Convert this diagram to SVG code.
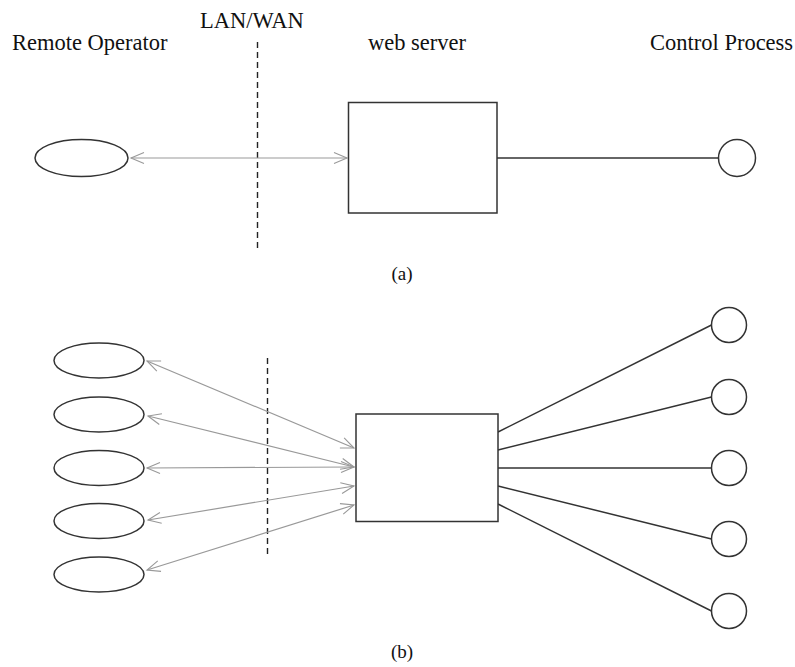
<svg xmlns="http://www.w3.org/2000/svg" width="795" height="667" viewBox="0 0 795 667">
  <defs>
    <marker id="chev" markerUnits="userSpaceOnUse" markerWidth="16" markerHeight="14" refX="14" refY="7" orient="auto-start-reverse">
      <path d="M1,1.5 L14,7 L1,12.5" fill="none" stroke="#999" stroke-width="1.1"/>
    </marker>
  </defs>
  <style>
    .lbl { font-size: 22.5px; fill: #111; }
    .cap { font-size: 19px; fill: #111; }
    .node { fill: #fff; stroke: #333; stroke-width: 1.5; }
    .link { stroke: #333; stroke-width: 1.5; fill: none; }
    .net { stroke: #999; stroke-width: 1.2; fill: none; marker-start: url(#chev); marker-end: url(#chev); }
    .bound { stroke: #222; stroke-width: 1.4; stroke-dasharray: 6 4; fill: none; }
  </style>
  <rect width="795" height="667" fill="#fff"/>

  <!-- (a) single operator -->
  <g id="labels-a" font-family="'Liberation Serif', 'Times New Roman', 'DejaVu Serif', serif">
    <text class="lbl" x="12" y="50">Remote Operator</text>
    <text class="lbl" x="200" y="28">LAN/WAN</text>
    <text class="lbl" x="368" y="50">web server</text>
    <text class="lbl" x="650" y="50">Control Process</text>
    <text class="cap" x="402" y="280" text-anchor="middle">(a)</text>
  </g>

  <g id="connectors-a">
    <line class="bound" x1="257.5" y1="42" x2="257.5" y2="251"/>
    <line class="net" x1="131" y1="158" x2="347" y2="158"/>
    <line class="link" x1="497" y1="158" x2="718" y2="158"/>
  </g>

  <g id="operator-a"><ellipse class="node" cx="81.5" cy="158" rx="46.5" ry="18.5"/></g>
  <g id="server-a"><rect class="node" x="348.5" y="102.5" width="148.5" height="110.5"/></g>
  <g id="process-a"><circle class="node" cx="737" cy="158" r="18.5"/></g>

  <!-- (b) many operators, many processes -->
  <g id="connectors-b">
    <line class="bound" x1="267.5" y1="358" x2="267.5" y2="557"/>
    <line class="net" x1="147" y1="361" x2="354" y2="448"/>
    <line class="net" x1="148" y1="416" x2="354" y2="467"/>
    <line class="net" x1="147" y1="468" x2="354" y2="467"/>
    <line class="net" x1="148" y1="520" x2="354" y2="486"/>
    <line class="net" x1="147" y1="570" x2="354" y2="505"/>
    <line class="link" x1="498" y1="432" x2="711.5" y2="325"/>
    <line class="link" x1="498" y1="450" x2="711.5" y2="397"/>
    <line class="link" x1="498" y1="468" x2="711.5" y2="468"/>
    <line class="link" x1="498" y1="486" x2="711.5" y2="539"/>
    <line class="link" x1="498" y1="504" x2="711.5" y2="611"/>
  </g>

  <g id="operator-b1"><ellipse class="node" cx="99" cy="360.5" rx="45" ry="17.5"/></g>
  <g id="operator-b2"><ellipse class="node" cx="99" cy="414.5" rx="45" ry="17.5"/></g>
  <g id="operator-b3"><ellipse class="node" cx="99" cy="468" rx="45" ry="17.5"/></g>
  <g id="operator-b4"><ellipse class="node" cx="99" cy="521" rx="45" ry="17.5"/></g>
  <g id="operator-b5"><ellipse class="node" cx="99" cy="574.5" rx="45" ry="17.5"/></g>

  <g id="server-b"><rect class="node" x="356" y="414" width="142" height="107.5"/></g>

  <g id="process-b1"><circle class="node" cx="729" cy="325" r="17.5"/></g>
  <g id="process-b2"><circle class="node" cx="729" cy="397" r="17.5"/></g>
  <g id="process-b3"><circle class="node" cx="729" cy="468" r="17.5"/></g>
  <g id="process-b4"><circle class="node" cx="729" cy="539" r="17.5"/></g>
  <g id="process-b5"><circle class="node" cx="729" cy="611" r="17.5"/></g>

  <text class="cap" x="402" y="658" text-anchor="middle" font-family="'Liberation Serif', 'Times New Roman', 'DejaVu Serif', serif">(b)</text>
</svg>
